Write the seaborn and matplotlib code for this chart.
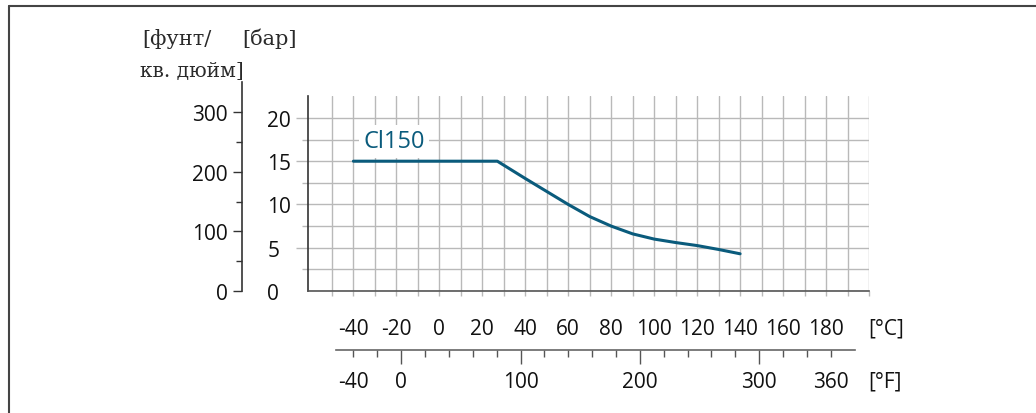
import numpy as np
import pandas as pd
import matplotlib
matplotlib.use("Agg")
import matplotlib.pyplot as plt
from matplotlib.lines import Line2D
from matplotlib.ticker import FixedLocator, FixedFormatter, NullFormatter
import seaborn as sns

# ---- data ----
temp_c = [-40, 27, 40, 50, 60, 70, 80, 90, 100, 110, 120, 130, 140]
pressure_bar = [15.0, 15.0, 13.0, 11.5, 10.0, 8.6, 7.5, 6.6, 6.0, 5.6, 5.25, 4.8, 4.3]
series_label = "Cl150"

bar_ticks = [0, 5, 10, 15, 20]
bar_minor = [2.5, 7.5, 12.5, 17.5]
psi_ticks = [0, 100, 200, 300]
psi_minor = [50, 150, 250]
c_ticks = [-40, -20, 0, 20, 40, 60, 80, 100, 120, 140, 160, 180]
c_minor = [-50, -30, -10, 10, 30, 50, 70, 90, 110, 130, 150, 170, 190, 200]
f_ticks = [0, 100, 200, 300]
f_minor = [-40, -20, 20, 40, 60, 80, 120, 140, 160, 180, 220, 240, 260, 280, 320, 340, 360]
f_minor_labels = {-40: "-40", 360: "360"}

y_unit_psi = ["[фунт/", "кв. дюйм]"]
y_unit_bar = "[бар]"
x_unit_c = "[°C]"
x_unit_f = "[°F]"

# ---- style ----
sns.set_style("white")
plt.rcParams["font.family"] = ["Open Sans", "DejaVu Sans"]
plt.rcParams["axes.unicode_minus"] = False

W, H = 1036, 414
DPI = 100
PX = 72.0 / DPI  # points per pixel

LINE_COLOR = "#0a5b7c"
GRID_COLOR = "#b9b9b9"
DARK = "#333333"
TXT = "#111111"
FS = 15

fig = plt.figure(figsize=(W / DPI, H / DPI), dpi=DPI)
fig.patch.set_facecolor("white")

# main axes geometry (pixels)
ax_left, ax_right, ax_top, ax_bottom = 308.3, 869.0, 97.3, 292.0
XLIM = (-61, 200)
YLIM = (0, 22.5)

def fx(px):
    return px / W

def fy(py):
    return 1 - py / H

ax = fig.add_axes([fx(ax_left), fy(ax_bottom), (ax_right - ax_left) / W, (ax_bottom - ax_top) / H])
ax.set_xlim(*XLIM)
ax.set_ylim(*YLIM)

df = pd.DataFrame({"T": temp_c, "p": pressure_bar})
sns.lineplot(data=df, x="T", y="p", ax=ax, color=LINE_COLOR, lw=2.2, zorder=5)
ax.set_xlabel("")
ax.set_ylabel("")

# grid
ax.xaxis.set_major_locator(FixedLocator(c_ticks))
ax.xaxis.set_minor_locator(FixedLocator(c_minor))
ax.xaxis.set_minor_formatter(NullFormatter())
ax.yaxis.set_major_locator(FixedLocator(bar_ticks))
ax.yaxis.set_minor_locator(FixedLocator(bar_minor))
ax.yaxis.set_minor_formatter(NullFormatter())
ax.grid(True, which="both", color=GRID_COLOR, lw=1.0)
ax.set_axisbelow(True)

for s in ["top", "right"]:
    ax.spines[s].set_visible(False)
ax.spines["left"].set_color(DARK)
ax.spines["bottom"].set_color("#555555")
ax.spines["left"].set_linewidth(1.2)
ax.spines["bottom"].set_linewidth(1.2)

ax.tick_params(axis="x", which="both", direction="out", length=5 * PX, width=1.0,
               color=GRID_COLOR, labelsize=FS, pad=16, labelcolor=TXT, bottom=True)
ax.tick_params(axis="y", which="major", direction="out", length=12 * PX, width=1.0,
               color=GRID_COLOR, labelsize=FS, pad=21, labelcolor=TXT, left=True)
ax.tick_params(axis="y", which="minor", direction="out", length=6 * PX, width=1.0,
               color=GRID_COLOR, left=True)
for lab in ax.get_yticklabels():
    lab.set_horizontalalignment("left")
ax.yaxis.get_major_ticks()[0].tick1line.set_visible(False)

ax.text(-35.5, 17.3, series_label, color=LINE_COLOR, fontsize=17, va="center", ha="left",
        zorder=6, bbox=dict(facecolor="white", edgecolor="none", pad=3))

# psi axis
psi_top = 83.3
psi_h = ax_bottom - psi_top
psi_max = YLIM[1] * 14.5038 * psi_h / (ax_bottom - ax_top)
axp = fig.add_axes([fx(242.3), fy(ax_bottom), 0.0005, psi_h / H])
axp.set_ylim(0, psi_max)
axp.set_xticks([])
axp.patch.set_alpha(0)
for s in ["top", "right", "bottom"]:
    axp.spines[s].set_visible(False)
axp.spines["left"].set_color(DARK)
axp.spines["left"].set_linewidth(1.2)
axp.yaxis.set_major_locator(FixedLocator(psi_ticks))
axp.yaxis.set_minor_locator(FixedLocator(psi_minor))
axp.yaxis.set_minor_formatter(NullFormatter())
axp.tick_params(axis="y", which="major", direction="out", length=9 * PX, width=1.0,
                color=DARK, labelsize=FS, pad=4, labelcolor=TXT, left=True)
axp.tick_params(axis="y", which="minor", direction="out", length=6 * PX, width=1.0,
                color=DARK, left=True)

# Fahrenheit axis
f_lim = (XLIM[0] * 1.8 + 32, XLIM[1] * 1.8 + 32)
axf = fig.add_axes([fx(ax_left), fy(350.7), (ax_right - ax_left) / W, 0.0005])
axf.set_xlim(*f_lim)
axf.set_yticks([])
axf.patch.set_alpha(0)
for s in ["top", "right", "left"]:
    axf.spines[s].set_visible(False)
axf.spines["bottom"].set_color("#666666")
axf.spines["bottom"].set_linewidth(1.2)
axf.spines["bottom"].set_bounds(-55, 380)
axf.xaxis.set_major_locator(FixedLocator(f_ticks))
axf.xaxis.set_minor_locator(FixedLocator(f_minor))
axf.xaxis.set_minor_formatter(FixedFormatter([f_minor_labels.get(v, "") for v in f_minor]))
axf.tick_params(axis="x", which="major", direction="out", length=14 * PX, width=1.0,
                color="#555555", labelsize=FS, pad=5.5, labelcolor=TXT, bottom=True)
axf.tick_params(axis="x", which="minor", direction="out", length=7 * PX, width=1.0,
                color="#555555", labelsize=FS, pad=10.5, labelcolor=TXT, bottom=True)

# unit labels
fig.text(fx(868), fy(329), x_unit_c, fontsize=FS, va="center", ha="left", color=TXT)
fig.text(fx(868), fy(382), x_unit_f, fontsize=FS, va="center", ha="left", color=TXT)
SERIF = ["DejaVu Serif"]
fig.text(fx(142), fy(39), y_unit_psi[0], fontsize=15, va="center", ha="left",
         family=SERIF, color="#2a2a2a")
fig.text(fx(140), fy(71), y_unit_psi[1], fontsize=14.5, va="center", ha="left",
         family=SERIF, color="#2a2a2a")
fig.text(fx(242), fy(39), y_unit_bar, fontsize=15, va="center", ha="left",
         family=SERIF, color="#2a2a2a")

# frame lines (left and top)
fig.add_artist(Line2D([fx(9.3), fx(9.3)], [0, fy(7.3)], color="#444444", lw=1.5))
fig.add_artist(Line2D([fx(9.3), 1], [fy(7.3), fy(7.3)], color="#444444", lw=1.5))

fig.savefig("out.png", dpi=DPI, facecolor="white")
